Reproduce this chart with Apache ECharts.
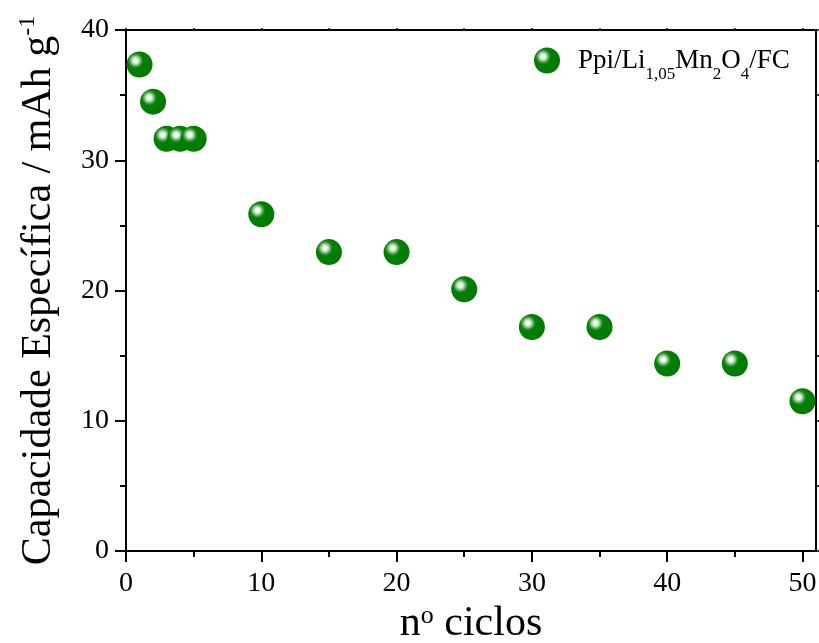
<!DOCTYPE html>
<html><head><meta charset="utf-8">
<script src="https://cdn.jsdelivr.net/npm/echarts@6/dist/echarts.min.js"></script>
<style>html,body{margin:0;padding:0;background:#fff}#c{width:819px;height:643px}</style>
</head><body><div id="c"></div>
<script>
const cycles = [1, 2, 3, 4, 5, 10, 15, 20, 25, 30, 35, 40, 45, 50];
const capacity = [37.35, 34.5, 31.65, 31.65, 31.65, 25.85, 22.95, 22.95, 20.1, 17.2, 17.2, 14.4, 14.4, 11.5];
const xMajorTicks = [0, 10, 20, 30, 40, 50];
const xMinorTicks = [5, 15, 25, 35, 45];
const xTopTicks = [0, 5, 10, 15, 20, 25, 30, 35, 40, 45, 50];
const seriesName = 'Ppi/Li1,05Mn2O4/FC';
const legendRich = '{m|Ppi/Li}{s|1,05}{m|Mn}{s|2}{m|O}{s|4}{m|/FC}';
const xTitle = '{m|n}{s|o}{m| ciclos}';
const yTitle = '{m|Capacidade Específica / mAh g}{s|-1}';

const FONT = 'Liberation Serif';
const black = '#000';
const ball = {
  type: 'radial', x: 0.35, y: 0.35, r: 1,
  colorStops: [
    { offset: 0, color: '#ffffff' },
    { offset: 0.08, color: '#eef7ee' },
    { offset: 0.15, color: '#a6d3a6' },
    { offset: 0.23, color: '#3e9a3e' },
    { offset: 0.3, color: '#008000' },
    { offset: 1, color: '#007400' }
  ]
};
const lineW = { color: black, width: 2 };

const chart = echarts.init(document.getElementById('c'), null, { renderer: 'canvas' });
chart.setOption({
  animation: false,
  backgroundColor: '#fff',
  textStyle: { fontFamily: FONT, color: black },
  grid: { left: 126, right: 3, top: 30, bottom: 92, containLabel: false, outerBoundsMode: 'none' },
  legend: {
    data: [{ name: seriesName, icon: 'circle' }],
    left: 534, top: 47, padding: 0,
    itemWidth: 52, itemHeight: 26,
    selectedMode: false,
    formatter: function () { return legendRich; },
    textStyle: {
      fontFamily: FONT, color: black,
      rich: {
        m: { fontFamily: FONT, fontSize: 27, lineHeight: 46, color: black },
        s: { fontFamily: FONT, fontSize: 17, lineHeight: 18, verticalAlign: 'bottom', color: black }
      }
    }
  },
  xAxis: [
    {
      type: 'value', position: 'bottom', min: 0, max: 51, interval: 10,
      axisLine: { onZero: false, lineStyle: lineW },
      axisTick: { length: 11, lineStyle: lineW, customValues: xMajorTicks },
      axisLabel: { customValues: xMajorTicks, margin: 19, fontSize: 28, fontFamily: FONT, color: black },
      splitLine: { show: false },
      name: xTitle, nameLocation: 'middle', nameGap: 50,
      nameTextStyle: {
        fontFamily: FONT, color: black,
        rich: {
          m: { fontFamily: FONT, fontSize: 42, lineHeight: 42, color: black },
          s: { fontFamily: FONT, fontSize: 26, lineHeight: 10, verticalAlign: 'top', color: black }
        }
      }
    },
    {
      type: 'value', position: 'bottom', min: 0, max: 51, interval: 10,
      axisLine: { show: false, onZero: false },
      axisTick: { length: 6, lineStyle: lineW, customValues: xMinorTicks },
      axisLabel: { show: false },
      splitLine: { show: false }
    },
    {
      type: 'value', position: 'top', min: 0, max: 51, interval: 10,
      axisLine: { onZero: false, lineStyle: lineW },
      axisTick: { length: 2, lineStyle: { color: black, width: 1.5 }, customValues: xTopTicks },
      axisLabel: { show: false },
      splitLine: { show: false }
    }
  ],
  yAxis: [
    {
      type: 'value', position: 'left', min: 0, max: 40, interval: 10,
      axisLine: { onZero: false, lineStyle: lineW },
      axisTick: { length: 11, lineStyle: lineW },
      minorTick: { show: true, splitNumber: 2, length: 6, lineStyle: lineW },
      axisLabel: { margin: 17, fontSize: 28, fontFamily: FONT, color: black },
      splitLine: { show: false },
      minorSplitLine: { show: false },
      name: yTitle, nameLocation: 'middle', nameGap: 64, nameRotate: 90,
      nameTextStyle: {
        fontFamily: FONT, color: black,
        rich: {
          m: { fontFamily: FONT, fontSize: 42, lineHeight: 46, color: black },
          s: { fontFamily: FONT, fontSize: 24, lineHeight: 7, verticalAlign: 'top', color: black }
        }
      }
    },
    {
      type: 'value', position: 'right', min: 0, max: 40, interval: 5,
      axisLine: { onZero: false, lineStyle: lineW },
      axisTick: { length: 3, lineStyle: { color: black, width: 1.5 } },
      axisLabel: { show: false },
      splitLine: { show: false }
    }
  ],
  series: [{
    name: seriesName,
    type: 'scatter',
    xAxisIndex: 0, yAxisIndex: 0,
    symbol: 'circle',
    symbolSize: 26,
    clip: false,
    itemStyle: { color: ball, opacity: 1 },
    emphasis: { disabled: true },
    data: cycles.map((c, i) => [c, capacity[i]])
  }]
});
</script></body></html>
